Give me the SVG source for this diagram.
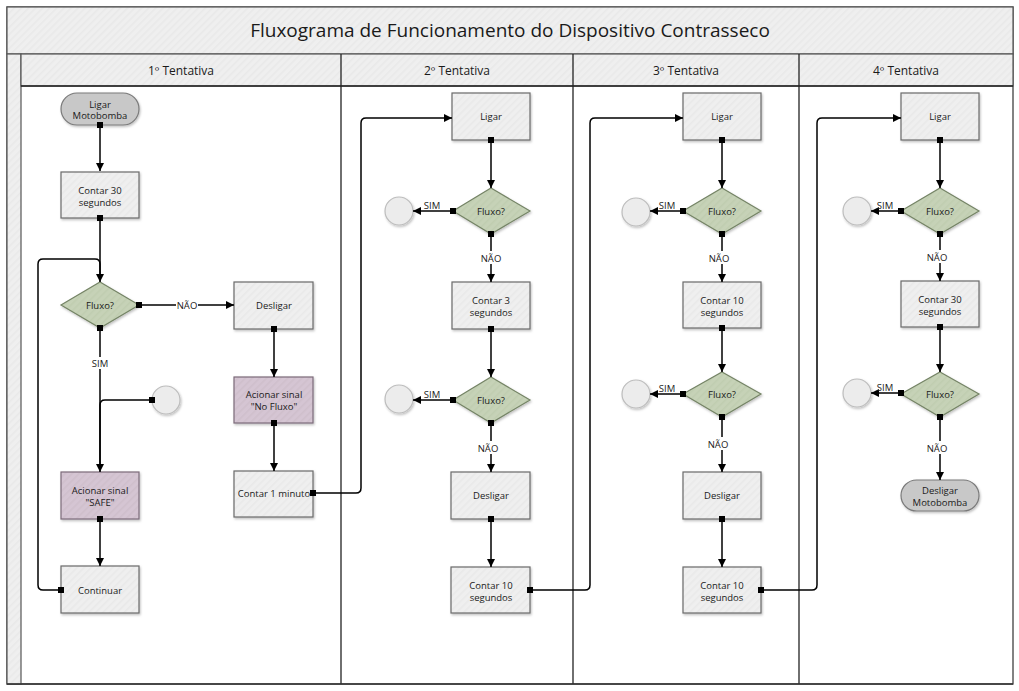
<svg xmlns="http://www.w3.org/2000/svg" width="1019" height="691" viewBox="0 0 1019 691">
<style>
text{font-family:"Open Sans","Noto Sans","Liberation Sans",sans-serif;fill:#1a1a1a;text-anchor:middle}
.t{font-size:9.5px}
.h{font-size:12px}
.ttl{font-size:19px}
.box{fill:url(#hg);stroke:#6a6a6a;stroke-width:1.2;filter:url(#sh)}
.dec{fill:url(#hgr);stroke:#758466;stroke-width:1.2;filter:url(#sh)}
.pur{fill:url(#hpu);stroke:#7c6b7a;stroke-width:1.2;filter:url(#sh)}
.pill{fill:#c8c8c8;stroke:#7a7a7a;stroke-width:1.2;filter:url(#sh)}
.circ{fill:#ececec;stroke:#bdbdbd;stroke-width:1.2;filter:url(#sh)}
.c{fill:none;stroke:#000;stroke-width:1.5}
.a{marker-end:url(#arr)}
.s{marker-start:url(#sq)}
.lb{fill:#fff}
.band{fill:url(#hg);stroke:#555;stroke-width:1.2}
.sep{stroke:#222;stroke-width:1.3}
</style>
<defs>
<pattern id="hg" width="5" height="5" patternUnits="userSpaceOnUse" patternTransform="rotate(45)"><rect width="5" height="5" fill="#efefef"/><rect width="1.6" height="5" fill="#e9e9e9"/></pattern>
<pattern id="hgr" width="5" height="5" patternUnits="userSpaceOnUse" patternTransform="rotate(45)"><rect width="5" height="5" fill="#c6d2b7"/><rect width="1.6" height="5" fill="#c0cdb0"/></pattern>
<pattern id="hpu" width="5" height="5" patternUnits="userSpaceOnUse" patternTransform="rotate(45)"><rect width="5" height="5" fill="#d5c5d3"/><rect width="1.6" height="5" fill="#cfbfcc"/></pattern>
<filter id="sh" x="-20%" y="-20%" width="140%" height="150%"><feDropShadow dx="1" dy="1.5" stdDeviation="1" flood-color="#000" flood-opacity="0.25"/></filter>
<marker id="arr" markerUnits="userSpaceOnUse" markerWidth="9" markerHeight="8" refX="8" refY="4" orient="auto"><path d="M0,0 L8,4 L0,8 z" fill="#000"/></marker>
<marker id="sq" markerUnits="userSpaceOnUse" markerWidth="6" markerHeight="6" refX="3" refY="3"><rect width="6" height="6" fill="#000"/></marker>
</defs>

<g id="frame">
<rect x="0" y="0" width="1019" height="691" fill="#fff"/>
<rect x="7" y="7" width="1006" height="677" fill="#fff" stroke="#404040" stroke-width="1.3"/>
<rect class="band" x="7" y="7" width="1006" height="47"/>
<rect class="band" x="7" y="54" width="14" height="630"/>
<rect class="band" x="21" y="54" width="992" height="32"/>
<line class="sep" x1="341" y1="54" x2="341" y2="684"/>
<line class="sep" x1="573" y1="54" x2="573" y2="684"/>
<line class="sep" x1="799" y1="54" x2="799" y2="684"/>
<line class="sep" x1="21" y1="86" x2="1013" y2="86"/>
<line x1="7" y1="684" x2="1013" y2="684" stroke="#333" stroke-width="1.3"/>
<text class="ttl" x="510" y="37">Fluxograma de Funcionamento do Dispositivo Contrasseco</text>
<text class="h" x="181" y="74.5">1º Tentativa</text>
<text class="h" x="457" y="74.5">2º Tentativa</text>
<text class="h" x="686" y="74.5">3º Tentativa</text>
<text class="h" x="906" y="74.5">4º Tentativa</text>
</g>

<g id="n1_ligar"><rect class="pill" x="61" y="93" width="78" height="32" rx="16"/><text class="t" x="100" y="107.5">Ligar</text><text class="t" x="100" y="119">Motobomba</text></g>
<g id="n1_contar30"><rect class="box" x="61" y="172" width="78" height="46"/><text class="t" x="100" y="194">Contar 30</text><text class="t" x="100" y="205.5">segundos</text></g>
<g id="n1_fluxo"><polygon class="dec" points="100,282 139,305 100,328 61,305"/><text class="t" x="100" y="308.5">Fluxo?</text></g>
<g id="n1_desligar"><rect class="box" x="234" y="282" width="79" height="47"/><text class="t" x="274" y="309">Desligar</text></g>
<g id="n1_nofluxo"><rect class="pur" x="234" y="377" width="79" height="46"/><text class="t" x="274" y="398">Acionar sinal</text><text class="t" x="274" y="409.5">"No Fluxo"</text></g>
<g id="n1_contar1"><rect class="box" x="234" y="471" width="79" height="46"/><text class="t" x="274" y="497">Contar 1 minuto</text></g>
<g id="n1_circ"><circle class="circ" cx="166" cy="400" r="14"/></g>
<g id="n1_safe"><rect class="pur" x="61" y="472" width="78" height="47"/><text class="t" x="100" y="494">Acionar sinal</text><text class="t" x="100" y="505.5">"SAFE"</text></g>
<g id="n1_continuar"><rect class="box" x="61" y="566" width="78" height="47"/><text class="t" x="100" y="593.5">Continuar</text></g>

<g id="n2_ligar"><rect class="box" x="452" y="93" width="78" height="47"/><text class="t" x="491" y="120">Ligar</text></g>
<g id="n2_fluxo1"><polygon class="dec" points="491,188 530,211 491,234 453,211"/><text class="t" x="491" y="214.5">Fluxo?</text></g>
<g id="n2_circ1"><circle class="circ" cx="399" cy="211" r="14"/></g>
<g id="n2_contar3"><rect class="box" x="452" y="282" width="78" height="47"/><text class="t" x="491" y="304">Contar 3</text><text class="t" x="491" y="315.5">segundos</text></g>
<g id="n2_fluxo2"><polygon class="dec" points="491,377 530,400 491,423 453,400"/><text class="t" x="491" y="403.5">Fluxo?</text></g>
<g id="n2_circ2"><circle class="circ" cx="399" cy="399" r="14"/></g>
<g id="n2_desligar"><rect class="box" x="451" y="472" width="79" height="47"/><text class="t" x="491" y="499">Desligar</text></g>
<g id="n2_contar10"><rect class="box" x="451" y="567" width="79" height="46"/><text class="t" x="491" y="589">Contar 10</text><text class="t" x="491" y="600.5">segundos</text></g>

<g id="n3_ligar"><rect class="box" x="683" y="93" width="78" height="47"/><text class="t" x="722" y="120">Ligar</text></g>
<g id="n3_fluxo1"><polygon class="dec" points="722,188 761,211 722,234 683,211"/><text class="t" x="722" y="214.5">Fluxo?</text></g>
<g id="n3_circ1"><circle class="circ" cx="636" cy="212" r="14"/></g>
<g id="n3_contar10a"><rect class="box" x="683" y="282" width="78" height="46"/><text class="t" x="722" y="304">Contar 10</text><text class="t" x="722" y="315.5">segundos</text></g>
<g id="n3_fluxo2"><polygon class="dec" points="722,372 761,394 722,417 683,394"/><text class="t" x="722" y="397.5">Fluxo?</text></g>
<g id="n3_circ2"><circle class="circ" cx="636" cy="394" r="14"/></g>
<g id="n3_desligar"><rect class="box" x="683" y="472" width="78" height="47"/><text class="t" x="722" y="499">Desligar</text></g>
<g id="n3_contar10b"><rect class="box" x="683" y="567" width="78" height="46"/><text class="t" x="722" y="589">Contar 10</text><text class="t" x="722" y="600.5">segundos</text></g>

<g id="n4_ligar"><rect class="box" x="901" y="93" width="78" height="47"/><text class="t" x="940" y="120">Ligar</text></g>
<g id="n4_fluxo1"><polygon class="dec" points="940,188 979,211 940,234 901,211"/><text class="t" x="940" y="214.5">Fluxo?</text></g>
<g id="n4_circ1"><circle class="circ" cx="857" cy="211" r="14"/></g>
<g id="n4_contar30"><rect class="box" x="901" y="281" width="78" height="46"/><text class="t" x="940" y="303">Contar 30</text><text class="t" x="940" y="314.5">segundos</text></g>
<g id="n4_fluxo2"><polygon class="dec" points="940,372 979,394 940,417 901,394"/><text class="t" x="940" y="397.5">Fluxo?</text></g>
<g id="n4_circ2"><circle class="circ" cx="857" cy="393" r="14"/></g>
<g id="n4_desligar"><rect class="pill" x="901" y="480" width="78" height="31" rx="15.5"/><text class="t" x="940" y="494">Desligar</text><text class="t" x="940" y="505.5">Motobomba</text></g>

<g id="connectors">
<path class="c s a" d="M100,125 V171"/>
<path class="c s a" d="M100,218 V282"/>
<path class="c s" d="M61,590 H43 Q38,590 38,585 V264 Q38,259 43,259 H95 Q100,259 100,264 V280"/>
<path class="c s a" d="M139,305 H234"/>
<path class="c s a" d="M100,328 V472"/>
<path class="c s" d="M152,400 H105 Q100,400 100,405 V470"/>
<path class="c s a" d="M274,329 V377"/>
<path class="c s a" d="M274,423 V471"/>
<path class="c s a" d="M100,519 V566"/>
<path class="c s a" d="M313,493 H356 Q361,493 361,488 V123 Q361,118 366,118 H452"/>

<path class="c s a" d="M491,140 V188"/>
<path class="c s a" d="M491,234 V282"/>
<path class="c s a" d="M491,329 V377"/>
<path class="c s a" d="M491,423 V472"/>
<path class="c s a" d="M491,519 V567"/>
<path class="c s a" d="M453,211 H413"/>
<path class="c s a" d="M453,400 H413"/>
<path class="c s a" d="M530,590 H585 Q590,590 590,585 V123 Q590,118 595,118 H683"/>

<path class="c s a" d="M722,140 V188"/>
<path class="c s a" d="M722,234 V282"/>
<path class="c s a" d="M722,328 V372"/>
<path class="c s a" d="M722,417 V472"/>
<path class="c s a" d="M722,519 V567"/>
<path class="c s a" d="M683,211 H650"/>
<path class="c s a" d="M683,394 H650"/>
<path class="c s a" d="M761,590 H812 Q817,590 817,585 V123 Q817,118 822,118 H901"/>

<path class="c s a" d="M940,140 V188"/>
<path class="c s a" d="M940,234 V281"/>
<path class="c s a" d="M940,327 V372"/>
<path class="c s a" d="M940,417 V480"/>
<path class="c s a" d="M901,211 H871"/>
<path class="c s a" d="M901,393 H871"/>

<g id="labels">
<rect class="lb" x="176" y="299" width="22" height="12"/><text class="t" x="187" y="308.5">NÃO</text>
<rect class="lb" x="90" y="357" width="20" height="12"/><text class="t" x="100" y="366.5">SIM</text>
<text class="t" x="432" y="209">SIM</text>
<text class="t" x="432" y="398">SIM</text>
<text class="t" x="667" y="209">SIM</text>
<text class="t" x="667" y="392">SIM</text>
<text class="t" x="885" y="209">SIM</text>
<text class="t" x="885" y="391">SIM</text>
<rect class="lb" x="480" y="251" width="22" height="13"/><text class="t" x="491" y="261.5">NÃO</text>
<rect class="lb" x="477" y="441" width="22" height="13"/><text class="t" x="488" y="451.5">NÃO</text>
<rect class="lb" x="708" y="251" width="22" height="13"/><text class="t" x="719" y="261.5">NÃO</text>
<rect class="lb" x="707" y="437" width="22" height="13"/><text class="t" x="718" y="447.5">NÃO</text>
<rect class="lb" x="926" y="250" width="22" height="13"/><text class="t" x="937" y="260.5">NÃO</text>
<rect class="lb" x="926" y="441" width="22" height="13"/><text class="t" x="937" y="451.5">NÃO</text>
</g>
</g>
</svg>
